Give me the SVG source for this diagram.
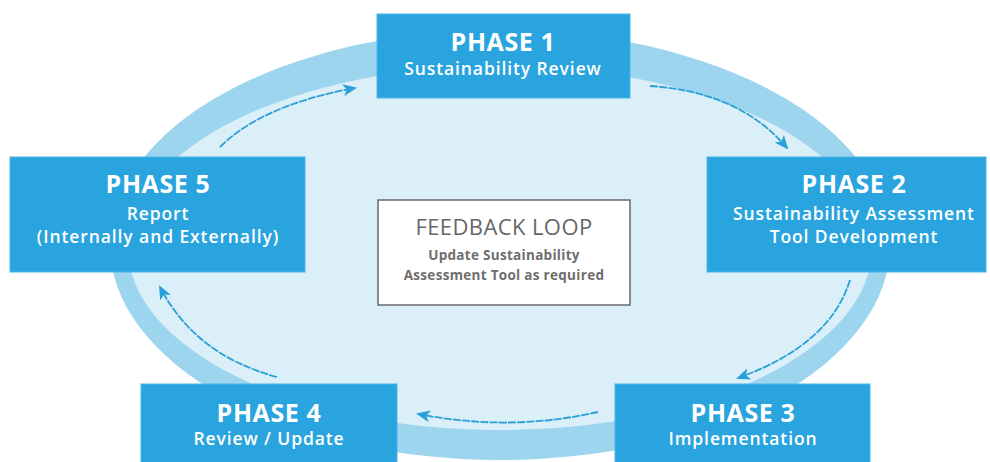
<svg xmlns="http://www.w3.org/2000/svg" width="990" height="462" viewBox="0 0 990 462">
<defs>
<style>
.box{fill:#29a4de;stroke:#4fb5e5;stroke-width:1}
.h{font-family:"Open Sans","Liberation Sans",sans-serif;font-weight:700;font-size:25px;letter-spacing:0.6px;fill:#ffffff;text-anchor:middle}
.s{font-family:"Open Sans","Liberation Sans",sans-serif;font-weight:600;font-size:17.5px;letter-spacing:0.9px;fill:#ffffff;text-anchor:middle}
.fh{font-family:"Open Sans","Liberation Sans",sans-serif;font-weight:400;font-size:22px;letter-spacing:0.4px;fill:#666666;text-anchor:middle}
.fs{font-family:"Open Sans","Liberation Sans",sans-serif;font-weight:700;font-size:13.5px;letter-spacing:0.3px;fill:#6e6e6e;text-anchor:middle}
.arr{fill:none;stroke:#2a9fd8;stroke-width:1.8;stroke-dasharray:8 1.2;marker-end:url(#ah)}
</style>
<marker id="ah" viewBox="0 0 14 12" refX="12" refY="6" markerWidth="14" markerHeight="12" markerUnits="userSpaceOnUse" orient="auto">
<path d="M0,0 L14,6 L0,12 L3.5,6 z" fill="#2a9fd8"/>
</marker>
</defs>
<rect width="990" height="462" fill="#ffffff"/>
<g id="ring">
<ellipse cx="500" cy="245" rx="390" ry="215" fill="#9dd5ef"/>
<ellipse cx="500" cy="248" rx="372" ry="182" fill="#dbeff9"/>
</g>
<g id="connectors">
<path class="arr" d="M220,147 Q262,105 355,88"/>
<path class="arr" d="M650,86 Q740,92 787,148"/>
<path class="arr" d="M850,280 Q830,345 738,378"/>
<path class="arr" d="M598,412 Q510,432 418,414"/>
<path class="arr" d="M277,377 Q195,355 160,287"/>
</g>
<g id="phase1">
<rect class="box" x="377" y="14" width="253" height="84"/>
<text class="h" x="503" y="51">PHASE 1</text>
<text class="s" x="503" y="74.5">Sustainability Review</text>
</g>
<g id="phase2">
<rect class="box" x="707" y="157" width="279" height="115"/>
<text class="h" x="854" y="193">PHASE 2</text>
<text class="s" x="854" y="220">Sustainability Assessment</text>
<text class="s" x="854" y="243">Tool Development</text>
</g>
<g id="phase3">
<rect class="box" x="615" y="384" width="255" height="80"/>
<text class="h" x="743" y="422">PHASE 3</text>
<text class="s" x="743" y="445">Implementation</text>
</g>
<g id="phase4">
<rect class="box" x="141" y="384" width="256" height="80"/>
<text class="h" x="269" y="422">PHASE 4</text>
<text class="s" x="269" y="445">Review / Update</text>
</g>
<g id="phase5">
<rect class="box" x="10" y="157" width="295" height="115"/>
<text class="h" x="158" y="193">PHASE 5</text>
<text class="s" x="158" y="220">Report</text>
<text class="s" x="158" y="243">(Internally and Externally)</text>
</g>
<g id="feedback">
<rect x="378" y="200" width="252" height="105" fill="#ffffff" stroke="#6a6a6a" stroke-width="1.5"/>
<text class="fh" x="504" y="235">FEEDBACK LOOP</text>
<text class="fs" x="504" y="260">Update Sustainability</text>
<text class="fs" x="504" y="280">Assessment Tool as required</text>
</g>
</svg>
